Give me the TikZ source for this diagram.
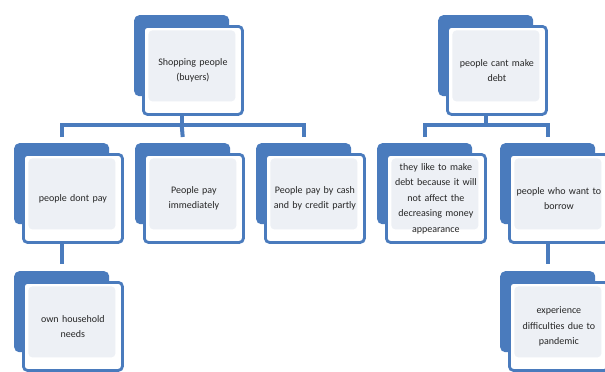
\documentclass[tikz,border=0pt]{standalone}
\usepackage{fontspec}
\setmainfont{Carlito}
\definecolor{cardblue}{HTML}{4A7BBD}
\definecolor{cardfill}{HTML}{EDF0F5}
\tikzset{
  back/.style={fill=cardblue, rounded corners=5pt, minimum width=95pt, minimum height=81pt, anchor=north west, inner sep=0pt},
  front/.style={draw=cardblue, line width=2.8pt, rounded corners=4pt, fill=white, minimum width=99pt, minimum height=88pt, anchor=north west, text width=94pt, align=center, inner sep=0pt, text=black!85, font=\fontsize{10}{15.5}\selectfont,
    path picture={\fill[cardfill] ([shift={(5pt,-4pt)}]path picture bounding box.north west) rectangle ([shift={(-7pt,13pt)}]path picture bounding box.south east);}},
  link/.style={draw=cardblue, line width=4pt}
}

\begin{document}
\begin{tikzpicture}[x=1pt,y=-1pt]
            \useasboundingbox (0,0) rectangle (605,372);
            \node[back] (buyersbk) at (134,15) {};
            \node[front] (buyers) at ([shift={(8pt,-10pt)}]buyersbk.north west) {Shopping people\\(buyers)};
            \node[back] (dontpaybk) at (14,143) {};
            \node[front] (dontpay) at ([shift={(8pt,-10pt)}]dontpaybk.north west) {people dont pay};
            \node[back] (nowbk) at (135,143) {};
            \node[front] (now) at ([shift={(8pt,-10pt)}]nowbk.north west) {People pay\\immediately};
            \node[back] (partlybk) at (256,143) {};
            \node[front] (partly) at ([shift={(8pt,-10pt)}]partlybk.north west) {People pay by cash\\and by credit partly};
            \node[back] (ownbk) at (14,271) {};
            \node[front] (own) at ([shift={(8pt,-10pt)}]ownbk.north west) {own household\\needs};
            \node[back] (nodebtbk) at (438,15) {};
            \node[front] (nodebt) at ([shift={(8pt,-10pt)}]nodebtbk.north west) {people cant make\\debt};
            \node[back] (likebk) at (377,143) {};
            \node[front] (like) at ([shift={(8pt,-10pt)}]likebk.north west) {they like to make\\debt because it will\\not affect the\\decreasing money\\appearance};
            \node[back] (borrowbk) at (500,143) {};
            \node[front] (borrow) at ([shift={(8pt,-10pt)}]borrowbk.north west) {people who want to\\borrow};
            \node[back] (pandemicbk) at (500,271) {};
            \node[front] (pandemic) at ([shift={(8pt,-10pt)}]pandemicbk.north west) {experience\\difficulties due to\\pandemic};
            \coordinate (barL) at (buyersbk |- 0,125);
            \coordinate (barR) at (nodebtbk |- 0,125);
            \draw[link] (buyersbk |- buyers.south) -- (barL);
            \draw[link] ([yshift=6pt]dontpaybk.north) |- (barL) -| ([yshift=6pt]partlybk.north);
            \draw[link] (barL) -- ([yshift=6pt]nowbk.north);
            \draw[link] (nodebtbk |- nodebt.south) -- (barR);
            \draw[link] ([yshift=6pt]likebk.north) |- (barR) -| ([yshift=6pt]borrowbk.north);
            \draw[link] (dontpaybk |- dontpay.south) -- ([yshift=7pt]ownbk.north);
            \draw[link] (borrowbk |- borrow.south) -- ([yshift=7pt]pandemicbk.north);
        \end{tikzpicture}
\end{document}
